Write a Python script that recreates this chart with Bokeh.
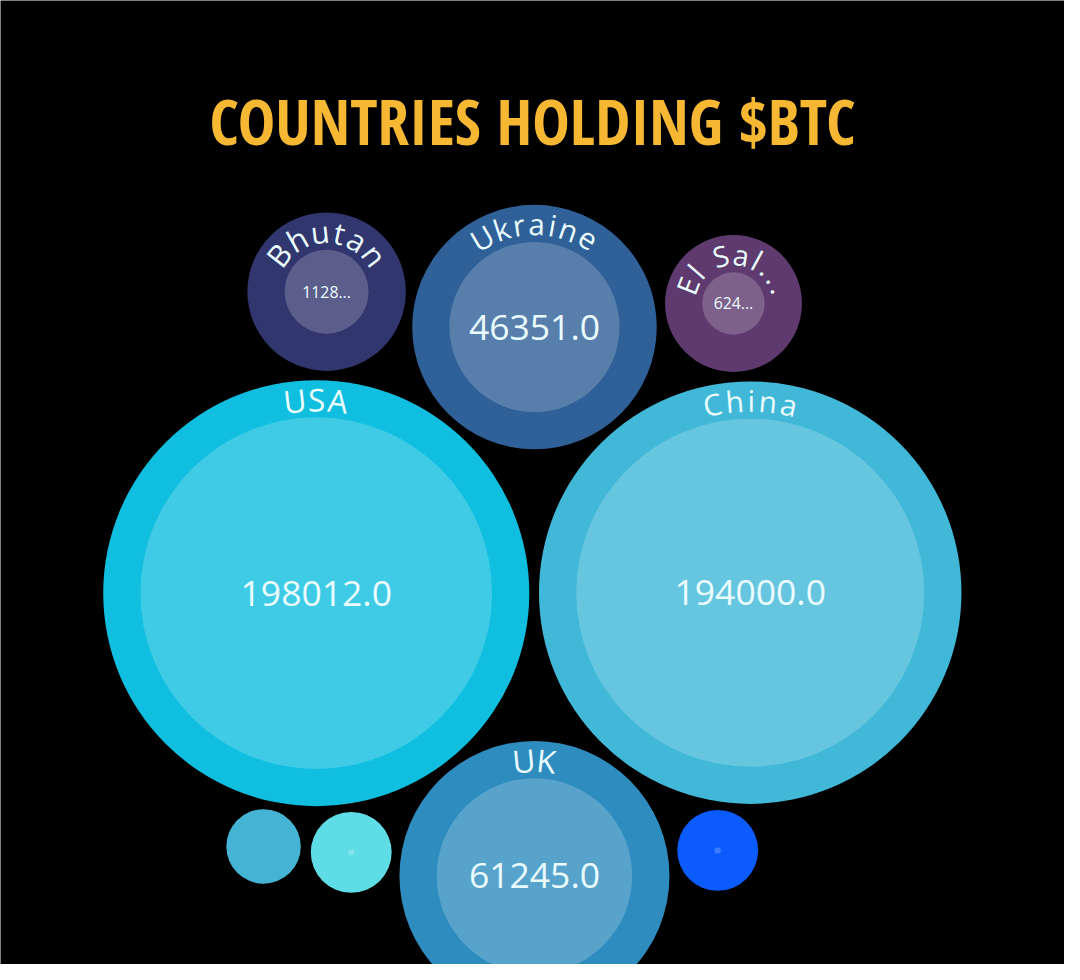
import math
from bokeh.plotting import figure
from bokeh.models import Range1d, ColumnDataSource
from bokeh.core.properties import value
from bokeh.embed import file_html
from bokeh.resources import INLINE

# ---------------- data ----------------
countries = ["USA", "China", "UK", "Ukraine", "Bhutan", "El Salvador", "", "", ""]
btc_holdings = [198012.0, 194000.0, 61245.0, 46351.0, 11288.0, 6240.0, 0.0, 66.0, 66.0]

# ---------------- layout (packed-bubble centres, in canvas units) ----------------
centre_x = [320.5, 761, 542, 542, 331, 744, 267, 356, 728]
centre_y = [602.5, 602, 890, 332, 296, 308, 860, 866, 864]
colors = ["#10bfe0", "#41b8d8", "#2f8cbf", "#2f6098", "#32366f", "#5e3a6f",
          "#45b4d4", "#5fdde6", "#0b5bff"]

W_FIG, H_FIG = 1064, 964
SC = W_FIG / 1080.0      # px per canvas unit
K = 0.401                # inner radius = K * sqrt(value)
PAD = 37.8               # ring thickness
TXT = "#eafcff"
FONT = "Open Sans"

def fs(px):
    return f"{px * SC:.1f}px"

inner_r = [K * math.sqrt(v) for v in btc_holdings]
outer_r = [r + PAD for r in inner_r]

p = figure(width=W_FIG, height=H_FIG, output_backend="svg", toolbar_location=None,
           x_range=Range1d(0, 1080), y_range=Range1d(980, 0),
           x_axis_location=None, y_axis_location=None,
           background_fill_color="black", border_fill_color="black",
           outline_line_color=None, min_border=0)
p.grid.visible = False

src = ColumnDataSource(dict(x=centre_x, y=centre_y, r_out=outer_r, r_in=inner_r,
                            color=colors))
p.circle(x="x", y="y", radius="r_out", fill_color="color", line_color=None, source=src)
p.circle(x="x", y="y", radius="r_in", fill_color="white", fill_alpha=0.2,
         line_color=None, source=src)

# ---------------- value labels ----------------
def fmt_value(v, rin):
    s = f"{v:.1f}"
    max_chars = int(rin / 10)
    if max_chars < 1:
        return ""
    if len(s) > max_chars:
        s = s[:max_chars] + "..."
    return s

vx, vy, vt, vs = [], [], [], []
for v, cx, cy, rin in zip(btc_holdings, centre_x, centre_y, inner_r):
    t = fmt_value(v, rin)
    if t:
        vx.append(cx); vy.append(cy); vt.append(t)
        vs.append(fs(36) if rin > 60 else fs(16))
p.text(x=vx, y=vy, text=vt, text_font_size=vs, text_color=TXT,
       text_font=value(FONT), text_align="center", text_baseline="middle")

# ---------------- curved country labels ----------------
W = {'U': .656, 'S': .544, 'A': .633, 'C': .633, 'h': .614, 'i': .253, 'n': .614,
     'a': .556, 'K': .59, 'k': .525, 'r': .408, 'e': .561, 'B': .635, 'u': .614,
     't': .344, 'E': .55, 'l': .253, ' ': .26, '.': .266}

def fmt_label(name, rout):
    max_chars = int(rout / 11)
    if len(name) > max_chars:
        return name[:max_chars] + "..."
    return name

label_size = {"USA": 32, "China": 30, "UK": 32, "Ukraine": 30, "Bhutan": 31, "El Salvador": 29}
label_track = {"USA": 3, "China": 4, "UK": 3, "Ukraine": 4, "Bhutan": 5.5, "El Salvador": 5.5}

cx_, cy_, ct_, ca_, cs_ = [], [], [], [], []
for name, cx, cy, rin, rout in zip(countries, centre_x, centre_y, inner_r, outer_r):
    if not name:
        continue
    label = fmt_label(name, rout)
    size = label_size[name]
    track = label_track[name]
    R = (rin + rout) / 2
    ws = [W.get(c, .55) * size for c in label]
    total = sum(ws) + track * (len(label) - 1)
    s = -total / 2
    for c, w in zip(label, ws):
        mid = s + w / 2
        th = math.pi / 2 - mid / R
        cx_.append(cx + R * math.cos(th))
        cy_.append(cy - R * math.sin(th))
        ct_.append(c)
        ca_.append(th - math.pi / 2)
        cs_.append(fs(size))
        s += w + track
p.text(x=cx_, y=cy_, text=ct_, angle=ca_, text_font_size=cs_, text_color=TXT,
       text_font=value(FONT), text_align="center", text_baseline="middle")

# ---------------- title ----------------
p.text(x=[540], y=[122], text=["COUNTRIES HOLDING $BTC"], text_color="#f6b733",
       text_font=value("'Open Sans Condensed ExtraBold', 'Open Sans Condensed', sans-serif"),
       text_font_style="bold", text_font_size=fs(64),
       text_align="center", text_baseline="middle")

open("out.html", "w").write(file_html(p, INLINE))
